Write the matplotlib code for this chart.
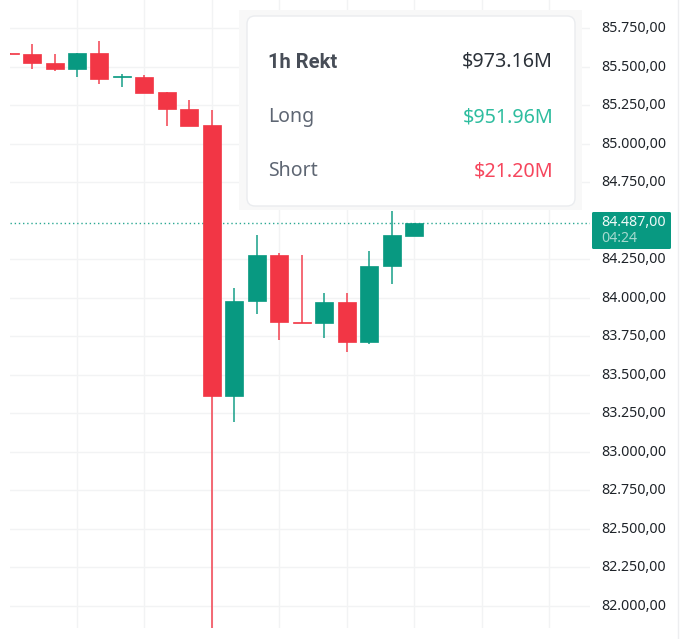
import matplotlib
matplotlib.use("Agg")
import matplotlib.pyplot as plt
from matplotlib.patches import FancyBboxPatch, Rectangle
from matplotlib.transforms import ScaledTranslation

W, H = 684, 639
UP, DOWN = "#089981", "#F23645"

candle_index = list(range(19))
opens = [85591, 85581, 85526, 85484, 85591, 85429, 85435, 85334, 85227, 85123,
         83360, 83980, 84273, 83844, 83834, 83971, 83711, 84204, 84399]
closes = [85584, 85523, 85484, 85591, 85422, 85438, 85328, 85224, 85114, 83360,
          83980, 84273, 83841, 83834, 83971, 83711, 84204, 84403, 84487]
highs = [85591, 85646, 85581, 85591, 85669, 85451, 85445, 85334, 85282, 85218,
         84064, 84406, 84289, 84273, 84032, 84032, 84305, 84562, 84487]
lows = [85584, 85484, 85471, 85432, 85386, 85367, 85328, 85114, 85114, 81850,
        83192, 83893, 83724, 83834, 83740, 83646, 83698, 84088, 84399]
price_ticks = [82000, 82250, 82500, 82750, 83000, 83250, 83500, 83750, 84000,
               84250, 84750, 85000, 85250, 85500, 85750]
time_ticks = [3, 6, 9, 12, 15, 18, 21, 24]
last_price = 84487
last_label = "84.487,00"
countdown = "04:24"
rows = [("1h Rekt", "$973.16M"), ("Long", "$951.96M"), ("Short", "$21.20M")]


def fmt(v):
    return f"{v:,.2f}".replace(",", "X").replace(".", ",").replace("X", ".")


fig = plt.figure(figsize=(W / 100, H / 100), dpi=100, facecolor="white")
ax = fig.add_axes([10 / W, 1 - 628 / H, 580 / W, 628 / H])
ax.set_xlim(0.02, 25.82)
ax.set_ylim(81854, 85932)
for s in ax.spines.values():
    s.set_visible(False)

ax.set_axisbelow(True)
ax.grid(True, color="#F2F3F4", lw=1)
ax.set_xticks(time_ticks)
ax.set_xticklabels([])
ax.set_yticks(price_ticks)
ax.set_yticklabels([fmt(v) for v in price_ticks], fontsize=10.2,
                   fontfamily="Noto Sans", color="#1E2329")
ax.yaxis.tick_right()
ax.tick_params(length=0, axis="both")
ax.tick_params(axis="y", pad=8)
shift = ScaledTranslation(0, 1.0 / 72, fig.dpi_scale_trans)
for lab in ax.get_yticklabels():
    lab.set_transform(lab.get_transform() + shift)

for i, o, c, h, l in zip(candle_index, opens, closes, highs, lows):
    col = UP if c >= o else DOWN
    ax.vlines(i, l, h, color=col, lw=1.3, alpha=0.8, zorder=3)
    ax.bar(i, abs(c - o), bottom=min(o, c), width=0.8, color=col,
           edgecolor=col, lw=0.5, zorder=4)

ax.axhline(last_price, color="#2BA893", lw=1, ls=(0, (1, 2)), zorder=2)

ov = fig.add_axes([0, 0, 1, 1], zorder=10)
ov.set_xlim(0, W)
ov.set_ylim(H, 0)
ov.axis("off")
ov.patch.set_alpha(0)

ov.add_patch(Rectangle((239, 10), 343, 200, fc="#F8F8F8", ec="none"))
ov.add_patch(FancyBboxPatch((247, 16), 328, 190,
                            boxstyle="round,pad=0,rounding_size=8",
                            fc="white", ec="#EAECEF", lw=1))
label_cols = ["#474D57", "#5E6673", "#5E6673"]
value_cols = ["#2B3139", "#2EBD9F", "#F6465D"]
label_fonts = ["Roboto", "Noto Sans", "Noto Sans"]
label_weights = ["bold", "normal", "normal"]
for (name, val), y, lc, vc, wt, fam in zip(rows, [62, 117, 171], label_cols, value_cols,
                                           label_weights, label_fonts):
    ov.text(268, y, name, fontsize=14.5 if wt == "bold" else 14, color=lc, fontweight=wt,
            fontfamily=fam, va="center", ha="left")
    ov.text(553, y, val, fontsize=14.2, color=vc, fontfamily="Noto Sans",
            va="center", ha="right")

ov.add_patch(FancyBboxPatch((592, 212), 79, 37,
                            boxstyle="round,pad=0,rounding_size=1.5",
                            fc=UP, ec="none"))
ov.text(601, 222, last_label, fontsize=10.2, color="#F0FAF8",
        fontfamily="Noto Sans", va="center", ha="left")
ov.text(601, 239, countdown, fontsize=10.2, color="#A5DACF",
        fontfamily="Noto Sans", va="center", ha="left")
ov.add_line(plt.Line2D([677.5, 677.5], [0, 639], color="#EDEEF0", lw=1))

fig.savefig("out.png", dpi=100, facecolor="white")
